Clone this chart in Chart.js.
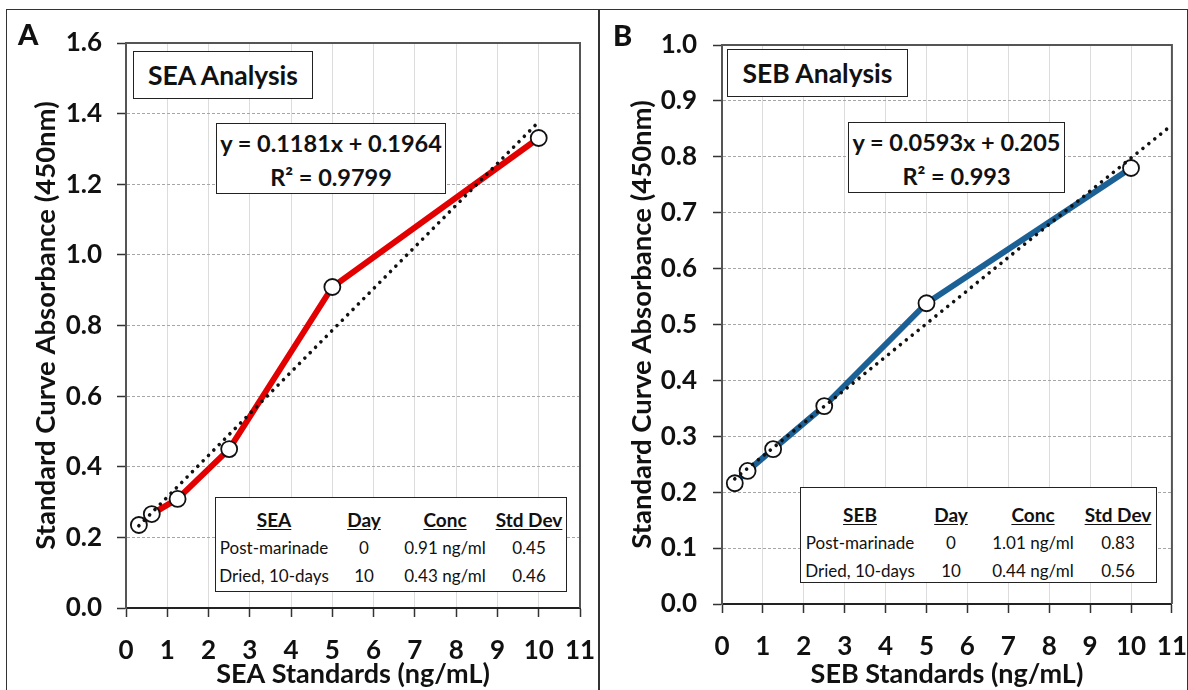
<!DOCTYPE html>
<html>
<head>
<meta charset="utf-8">
<script src="https://cdn.jsdelivr.net/npm/chart.js@4.4.1/dist/chart.umd.min.js"></script>
<style>
  html, body { margin: 0; padding: 0; background: #fff; }
  body { width: 1188px; height: 690px; position: relative; overflow: hidden; font-family: Lato, "Open Sans", sans-serif; color: #111; }
  canvas { position: absolute; top: 0; }
  .frame { position: absolute; left: 6px; top: 9px; width: 1182px; height: 690px; border: 1.5px solid #333; box-sizing: border-box; }
  .divider { position: absolute; left: 598px; top: 9px; width: 1.5px; height: 690px; background: #333; }
  .letter { position: absolute; font-weight: 900; font-size: 29px; line-height: 1; }
  .box { position: absolute; background: #fff; border: 1.5px solid #222; box-sizing: border-box; font-weight: bold; text-align: center; }
  .ttl { font-size: 26.5px; display: flex; align-items: center; justify-content: center; }
  .eq { font-size: 23.5px; line-height: 34px; padding-top: 2px; }
  .tbl table { border-collapse: collapse; table-layout: fixed; font-weight: normal; font-size: 17px; }
  .tbl td { padding: 0; text-align: center; height: 28px; white-space: nowrap; }
  .tbl tr.h td { font-weight: bold; font-size: 19px; text-decoration: underline; text-underline-offset: 2px; }
</style>
</head>
<body>
<div class="frame"></div>
<div class="divider"></div>
<canvas id="chartA" width="599" height="690" style="left:0"></canvas>
<canvas id="chartB" width="589" height="690" style="left:599px"></canvas>

<div class="letter" style="left:18px; top:19px">A</div>
<div class="letter" style="left:613px; top:20px">B</div>

<div class="box ttl" style="left:133px; top:51px; width:180px; height:48px">SEA Analysis</div>
<div class="box eq" style="left:216px; top:123px; width:230px; height:71px">y = 0.1181x + 0.1964<br>R² = 0.9799</div>
<div class="box tbl" style="left:215px; top:497px; width:352px; height:95px; padding-top:7px">
  <table>
    <colgroup><col style="width:116px"><col style="width:64px"><col style="width:98px"><col style="width:70px"></colgroup>
    <tr class="h"><td>SEA</td><td>Day</td><td>Conc</td><td>Std Dev</td></tr>
    <tr><td>Post-marinade</td><td>0</td><td>0.91 ng/ml</td><td>0.45</td></tr>
    <tr><td>Dried, 10-days</td><td>10</td><td>0.43 ng/ml</td><td>0.46</td></tr>
  </table>
</div>

<div class="box ttl" style="left:727px; top:49px; width:181px; height:48px">SEB Analysis</div>
<div class="box eq" style="left:848px; top:122px; width:217px; height:71px">y = 0.0593x + 0.205<br>R² = 0.993</div>
<div class="box tbl" style="left:800px; top:487px; width:357px; height:96px; padding-top:12px">
  <table>
    <colgroup><col style="width:118px"><col style="width:64px"><col style="width:100px"><col style="width:70px"></colgroup>
    <tr class="h"><td>SEB</td><td>Day</td><td>Conc</td><td>Std Dev</td></tr>
    <tr><td>Post-marinade</td><td>0</td><td>1.01 ng/ml</td><td>0.83</td></tr>
    <tr><td>Dried, 10-days</td><td>10</td><td>0.44 ng/ml</td><td>0.56</td></tr>
  </table>
</div>

<script>
const standards = [0.3125, 0.625, 1.25, 2.5, 5, 10];
const seaAbs = [0.235, 0.266, 0.309, 0.45, 0.909, 1.331];
const sebAbs = [0.216, 0.238, 0.277, 0.354, 0.538, 0.78];

// dotted linear trend lines (end points)
const seaFitX = [0.3125, 10];
const seaFitY = [0.233, 1.377];
const sebFitX = [0.3125, 11];
const sebFitY = [0.224, 0.857];

const xTicks = [0, 1, 2, 3, 4, 5, 6, 7, 8, 9, 10, 11];
const xLabels = ["0", "1", "2", "3", "4", "5", "6", "7", "8", "9", "10", "11"];
const seaYTicks = [0, 0.2, 0.4, 0.6, 0.8, 1.0, 1.2, 1.4, 1.6];
const seaYLabels = ["0.0", "0.2", "0.4", "0.6", "0.8", "1.0", "1.2", "1.4", "1.6"];
const sebYTicks = [0, 0.1, 0.2, 0.3, 0.4, 0.5, 0.6, 0.7, 0.8, 0.9, 1.0];
const sebYLabels = ["0.0", "0.1", "0.2", "0.3", "0.4", "0.5", "0.6", "0.7", "0.8", "0.9", "1.0"];

const FONT = "Lato, 'Open Sans', sans-serif";

// top and right edges of the plot box
const plotFrame = {
    id: "plotFrame",
    beforeDatasetsDraw(chart) {
        const a = chart.chartArea;
        const ctx = chart.ctx;
        ctx.save();
        ctx.strokeStyle = "#555";
        ctx.lineWidth = 2;
        ctx.beginPath();
        ctx.moveTo(a.left, a.top);
        ctx.lineTo(a.right, a.top);
        ctx.lineTo(a.right, a.bottom);
        ctx.stroke();
        ctx.restore();
    }
};

function pts(xs, ys) {
    return xs.map((x, i) => ({ x: x, y: ys[i] }));
}

function makeChart(id, p) {
    new Chart(document.getElementById(id), {
        type: "scatter",
        data: {
            datasets: [{
                data: pts(p.fitX, p.fitY),
                showLine: true,
                borderColor: "#111",
                borderWidth: 3.6,
                borderDash: [0.01, 7.6],
                borderCapStyle: "round",
                pointRadius: 0,
                clip: false
            }, {
                data: pts(standards, p.values),
                showLine: true,
                borderColor: p.color,
                borderWidth: 6,
                pointRadius: 8,
                pointBackgroundColor: "#fff",
                pointBorderColor: "#111",
                pointBorderWidth: 1.8,
                clip: false
            }]
        },
        options: {
            responsive: false,
            animation: false,
            devicePixelRatio: 1,
            layout: { padding: p.pad },
            plugins: { legend: { display: false }, tooltip: { enabled: false } },
            scales: {
                x: {
                    type: "linear",
                    min: 0,
                    max: 11,
                    afterBuildTicks: s => { s.ticks = xTicks.map(v => ({ value: v })); },
                    afterFit: s => { s.height = p.xHeight; },
                    ticks: {
                        callback: (v, i) => xLabels[i],
                        // small padding keeps the right edge; line height pushes labels down
                        font: { family: FONT, size: 26, weight: "bold", lineHeight: 2.5 },
                        color: "#111",
                        padding: 1,
                        maxRotation: 0
                    },
                    grid: { color: "#dcdcdc", lineWidth: 1, tickColor: "#333", tickLength: 9, tickWidth: 1.5 },
                    border: { color: "#222", width: 2 },
                    title: {
                        display: true,
                        text: p.xTitle,
                        font: { family: FONT, size: 27, weight: "bold" },
                        color: "#111",
                        padding: { top: 0, bottom: 0 }
                    }
                },
                y: {
                    min: 0,
                    max: p.yMax,
                    afterBuildTicks: s => { s.ticks = p.yTicks.map(v => ({ value: v })); },
                    afterFit: s => { s.width = p.yWidth; },
                    ticks: {
                        callback: (v, i) => p.yLabels[i],
                        font: { family: FONT, size: 26, weight: "bold" },
                        color: "#111",
                        padding: p.yPad
                    },
                    grid: { color: "#a6a6a6", lineWidth: 1, tickColor: "#333", tickLength: 9, tickWidth: 1.5, tickBorderDash: [] },
                    border: { color: "#555", width: 2, dash: [3, 2] },
                    title: {
                        display: true,
                        text: "Standard Curve Absorbance (450nm)",
                        font: { family: FONT, size: 27.5, weight: "bold" },
                        color: "#111",
                        padding: { top: 0, bottom: 0 }
                    }
                }
            }
        },
        plugins: [plotFrame]
    });
}

makeChart("chartA", {
    values: seaAbs, fitX: seaFitX, fitY: seaFitY, color: "#e30000",
    yMax: 1.6, yTicks: seaYTicks, yLabels: seaYLabels,
    xTitle: "SEA Standards (ng/mL)",
    pad: { left: 30, right: 19, top: 43, bottom: 0 },
    yWidth: 96, xHeight: 82, yPad: 15
});

makeChart("chartB", {
    values: sebAbs, fitX: sebFitX, fitY: sebFitY, color: "#1c6196",
    yMax: 1.0, yTicks: sebYTicks, yLabels: sebYLabels,
    xTitle: "SEB Standards (ng/mL)",
    pad: { left: 27, right: 16, top: 45, bottom: 0 },
    yWidth: 96, xHeight: 86, yPad: 16
});
</script>
</body>
</html>
